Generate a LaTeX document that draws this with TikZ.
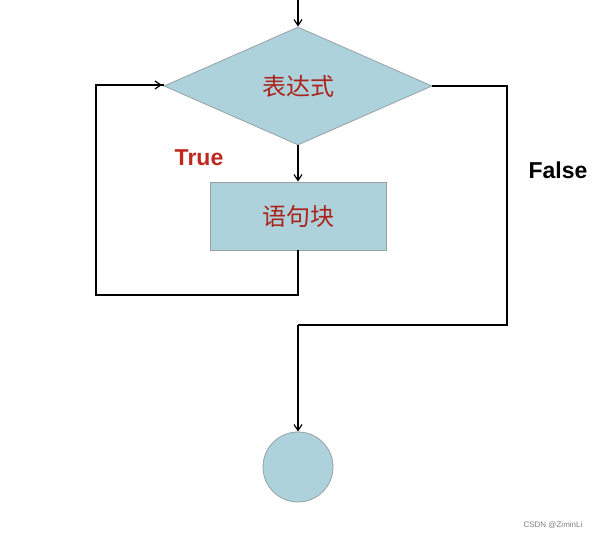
\documentclass[tikz,border=0pt]{standalone}
\usepackage{fontspec}
\setmainfont{Liberation Sans}
\newfontfamily\cjk{Noto Sans CJK SC}
\usetikzlibrary{shapes.geometric,arrows.meta}
\definecolor{boxfill}{RGB}{174,210,220}
\definecolor{boxline}{RGB}{150,160,165}
\definecolor{truered}{RGB}{190,40,30}
\begin{document}
\begin{tikzpicture}[x=1pt,y=-1pt,
  shapebox/.style={fill=boxfill,draw=boxline,line width=0.8pt},
  conn/.style={line width=1.2pt,black},
  arr/.style={conn,-{Straight Barb[length=6pt,width=8pt]}}]
\useasboundingbox (0,0) rectangle (600,537);
\node[shapebox,diamond,minimum width=268pt,minimum height=118pt,inner sep=0pt,aspect=2.27] (d) at (298,86) {};
\node at (d) {\cjk\fontsize{24}{26}\selectfont\color{truered!90!black}表达式};
\node[shapebox,rectangle,minimum width=176pt,minimum height=68pt] (b) at (298,216) {\cjk\fontsize{24}{26}\selectfont\color{truered!90!black}语句块};
\node[shapebox,circle,minimum size=70pt,inner sep=0pt] (c) at (298,467) {};
\coordinate (top) at (298,0);
\draw[arr] (top) -- (d.north);
\draw[arr] (d.south) -- (b.north);
\coordinate (l1) at (298,295);
\coordinate (l2) at (96,295);
\coordinate (l3) at (96,85);
\coordinate (l4) at (164,85);
\draw[conn] (b.south) -- (l1) -- (l2) -- (l3) -- (l4);
\draw[arr] (l3) -- (162,85);
\coordinate (r1) at (507,86);
\coordinate (r2) at (507,325);
\coordinate (r3) at (298,325);
\draw[conn] (d.east) -- (r1) -- (r2) -- (r3);
\draw[arr] (r3) -- (c.north);
\node[font=\bfseries\fontsize{23}{25}\selectfont,text=truered] (t) at (199,158) {True};
\node[font=\bfseries\fontsize{23}{25}\selectfont] (f) at (558,170) {False};
\node[font=\fontsize{8}{9}\selectfont,text=gray] (w) at (553,525) {CSDN @ZiminLi};
\end{tikzpicture}
\end{document}
